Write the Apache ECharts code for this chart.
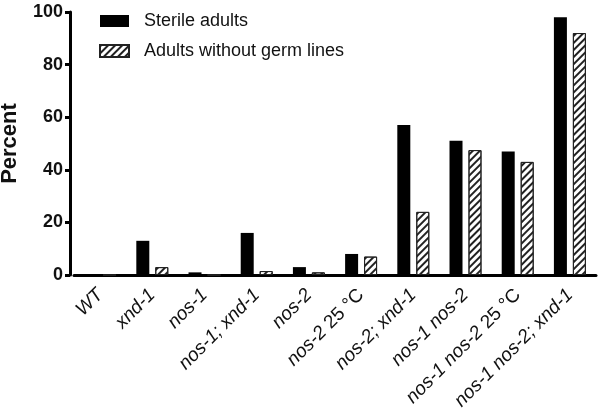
<!DOCTYPE html>
<html>
<head>
<meta charset="utf-8">
<script src="https://cdn.jsdelivr.net/npm/echarts@6/dist/echarts.min.js"></script>
<style>
html,body{margin:0;padding:0;background:#fff;}
#c{width:606px;height:419px;}
</style>
</head>
<body>
<div id="c"></div>
<script>
const categories = ['WT', 'xnd-1', 'nos-1', 'nos-1; xnd-1', 'nos-2', 'nos-2  25 °C', 'nos-2; xnd-1', 'nos-1 nos-2', 'nos-1 nos-2 25 °C', 'nos-1 nos-2; xnd-1'];
const sterileAdults = [0, 13, 1, 16, 3, 8, 57, 51, 47, 98];
const withoutGermLines = [0, 3, 0, 1.5, 1, 7, 24, 47.5, 43, 92];
const yTicks = [0, 20, 40, 60, 80, 100];

const chart = echarts.init(document.getElementById('c'), null, {renderer: 'canvas'});
const FONT = 'Liberation Sans, Arial, sans-serif';

function fmtLabel(v) {
  const m = v.match(/^(.*?)\s+(25 °C)$/);
  if (m) return '{i|' + m[1] + '} {n|' + m[2] + '}';
  return '{i|' + v + '}';
}

chart.setOption({
  animation: false,
  backgroundColor: '#fff',
  legend: {
    orient: 'vertical',
    left: 99,
    top: 12,
    padding: 0,
    icon: 'rect',
    itemWidth: 29,
    itemHeight: 12,
    itemGap: 12,
    textStyle: {fontFamily: FONT, fontSize: 18, color: '#111', padding: [0, 0, 0, 10]},
    data: ['Sterile adults', 'Adults without germ lines']
  },
  grid: {left: 74, right: 10, top: 12, bottom: 144, containLabel: false, outerBoundsMode: 'none'},
  xAxis: {
    type: 'category',
    data: categories,
    boundaryGap: true,
    axisLine: {lineStyle: {color: '#000', width: 3}},
    axisTick: {alignWithLabel: true, length: 6, lineStyle: {color: '#000', width: 3}},
    axisLabel: {
      rotate: 45,
      margin: 17,
      color: '#111',
      fontFamily: FONT,
      fontSize: 19,
      interval: 0,
      formatter: fmtLabel,
      rich: {
        i: {fontStyle: 'italic', fontFamily: FONT, fontSize: 19, color: '#111'},
        n: {fontStyle: 'normal', fontFamily: FONT, fontSize: 19, color: '#111'}
      }
    }
  },
  yAxis: {
    type: 'value',
    min: yTicks[0],
    max: yTicks[yTicks.length - 1],
    interval: 20,
    offset: 4,
    name: 'Percent',
    nameLocation: 'middle',
    nameGap: 49,
    nameTextStyle: {fontFamily: FONT, fontSize: 22, fontWeight: 'bold', color: '#111'},
    splitLine: {show: false},
    axisLine: {show: true, lineStyle: {color: '#000', width: 3}},
    axisTick: {show: true, length: 5, lineStyle: {color: '#000', width: 3}},
    axisLabel: {fontFamily: FONT, fontSize: 18, fontWeight: 'bold', color: '#111', margin: 7}
  },
  series: [
    {
      name: 'Sterile adults',
      type: 'bar',
      data: sterileAdults,
      barWidth: 13,
      barGap: '46%',
      itemStyle: {color: '#000'}
    },
    {
      name: 'Adults without germ lines',
      type: 'bar',
      data: withoutGermLines,
      barWidth: 13,
      itemStyle: {
        color: '#fff',
        borderColor: '#222',
        borderWidth: 1,
        decal: {
          symbol: 'rect',
          symbolSize: 1,
          color: '#222',
          dashArrayX: [1, 0],
          dashArrayY: [1.2, 3],
          rotation: -Math.PI / 4
        }
      }
    }
  ]
});
</script>
</body>
</html>
